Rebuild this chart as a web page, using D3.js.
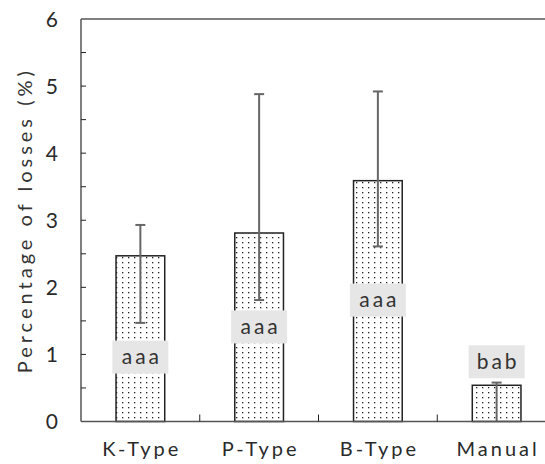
<!DOCTYPE html>
<html>
<head>
<meta charset="utf-8">
<script src="https://cdn.jsdelivr.net/npm/d3@7"></script>
<style>
  body { margin: 0; background: #fff; }
  svg { display: block; font-family: Lato, "Noto Sans", sans-serif; }
</style>
</head>
<body>
<svg id="chart" width="545" height="464"></svg>
<script>
// --- Data ---
const categories = ["K-Type", "P-Type", "B-Type", "Manual"];
const values = [2.47, 2.81, 3.59, 0.54];
const errHigh = [2.93, 4.88, 4.92, 0.58];
const errLow = [1.47, 1.81, 2.61, 0.0];
const groupLabels = ["aaa", "aaa", "aaa", "bab"];
const labelPos = [0.96, 1.41, 1.81, 0.89];
const yTicks = [0, 1, 2, 3, 4, 5, 6];
const yMinorTicks = [0.5, 1.5, 2.5, 3.5, 4.5, 5.5];

// --- Layout ---
const margin = { top: 19, left: 81, bottom: 421.5 };
const plotRight = 556;

const svg = d3.select("#chart");

// Dot pattern for bars
const defs = svg.append("defs");
const pat = defs.append("pattern")
    .attr("id", "dots")
    .attr("patternUnits", "userSpaceOnUse")
    .attr("width", 6)
    .attr("height", 5);
pat.append("rect").attr("width", 6).attr("height", 5).attr("fill", "#fff");
pat.append("rect").attr("x", 2).attr("y", 2).attr("width", 1.3).attr("height", 1.3).attr("fill", "#222");

// Scales
const x = d3.scaleBand()
    .domain(categories)
    .range([margin.left, plotRight])
    .paddingInner(0.59)
    .paddingOuter(0.295);

const y = d3.scaleLinear().domain([0, 6]).range([margin.bottom, margin.top]);

const axisColor = "#555";

// Bars
svg.append("g")
    .selectAll("rect")
    .data(categories)
    .join("rect")
    .attr("x", d => x(d))
    .attr("y", (d, i) => y(values[i]))
    .attr("width", x.bandwidth())
    .attr("height", (d, i) => y(0) - y(values[i]))
    .attr("fill", "url(#dots)")
    .attr("stroke", "#222")
    .attr("stroke-width", 1.5);

// Error bars
const eb = svg.append("g").attr("stroke", "#666").attr("stroke-width", 2);
categories.forEach((c, i) => {
    const cx = x(c) + x.bandwidth() / 2;
    eb.append("line")
        .attr("x1", cx).attr("x2", cx)
        .attr("y1", y(errHigh[i])).attr("y2", y(errLow[i]));
    eb.append("line")
        .attr("x1", cx - 5).attr("x2", cx + 5)
        .attr("y1", y(errHigh[i])).attr("y2", y(errHigh[i]));
    if (errLow[i] > 0) {
        eb.append("line")
            .attr("x1", cx - 5).attr("x2", cx + 5)
            .attr("y1", y(errLow[i])).attr("y2", y(errLow[i]));
    }
});

// Group letter labels
const lab = svg.append("g");
categories.forEach((c, i) => {
    const cx = x(c) + x.bandwidth() / 2;
    const cy = y(labelPos[i]);
    lab.append("rect")
        .attr("x", cx - 28).attr("y", cy - 16.5)
        .attr("width", 56).attr("height", 33)
        .attr("fill", "#e6e6e6");
    lab.append("text")
        .attr("x", cx + 1.5).attr("y", cy + 7)
        .attr("text-anchor", "middle")
        .attr("font-size", "21px")
        .attr("letter-spacing", "3px")
        .attr("fill", "#333")
        .text(groupLabels[i]);
});

// Axes frame
svg.append("line")
    .attr("x1", margin.left).attr("x2", plotRight)
    .attr("y1", y(6)).attr("y2", y(6))
    .attr("stroke", axisColor).attr("stroke-width", 1.5);
svg.append("line")
    .attr("x1", margin.left).attr("x2", plotRight)
    .attr("y1", y(0)).attr("y2", y(0))
    .attr("stroke", axisColor).attr("stroke-width", 1.5);
svg.append("line")
    .attr("x1", margin.left).attr("x2", margin.left)
    .attr("y1", y(0)).attr("y2", y(6))
    .attr("stroke", axisColor).attr("stroke-width", 1.5);

// Y ticks (inward)
svg.append("g")
    .selectAll("line")
    .data(yTicks.concat(yMinorTicks).filter(t => t > 0 && t < 6))
    .join("line")
    .attr("x1", margin.left).attr("x2", margin.left + 5)
    .attr("y1", d => y(d)).attr("y2", d => y(d))
    .attr("stroke", "#222").attr("stroke-width", 1);

svg.append("g")
    .selectAll("text")
    .data(yTicks)
    .join("text")
    .attr("x", 58)
    .attr("y", d => y(d) + 7.5)
    .attr("text-anchor", "end")
    .attr("font-size", "21px")
    .attr("fill", "#2a2a2a")
    .text(d => d);

// X separator ticks (inward)
svg.append("g")
    .selectAll("line")
    .data(categories.slice(1))
    .join("line")
    .attr("x1", d => x(d) - x.step() * x.paddingInner() / 2)
    .attr("x2", d => x(d) - x.step() * x.paddingInner() / 2)
    .attr("y1", y(0)).attr("y2", y(0) - 7)
    .attr("stroke", "#222").attr("stroke-width", 1);

svg.append("g")
    .selectAll("text")
    .data(categories)
    .join("text")
    .attr("x", d => x(d) + x.bandwidth() / 2 + 1.5)
    .attr("y", 456)
    .attr("text-anchor", "middle")
    .attr("font-size", "20px")
    .attr("letter-spacing", "3px")
    .attr("fill", "#2a2a2a")
    .text(d => d);

// Y title
svg.append("text")
    .attr("transform", `translate(32, ${(y(0) + y(6)) / 2}) rotate(-90)`)
    .attr("text-anchor", "middle")
    .attr("font-size", "20px")
    .attr("letter-spacing", "4px")
    .attr("fill", "#333")
    .text("Percentage of losses (%)");
</script>
</body>
</html>
